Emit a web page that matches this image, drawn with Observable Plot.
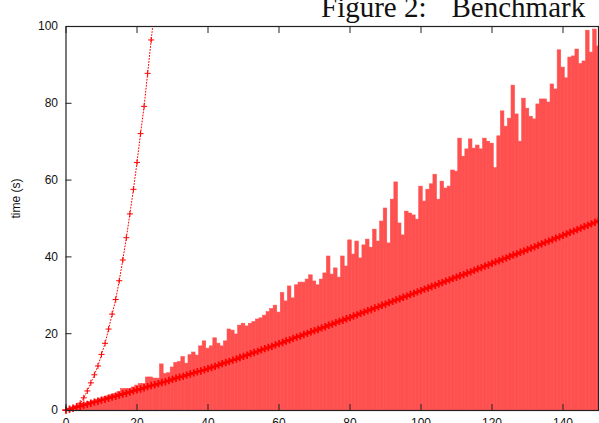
<!DOCTYPE html>
<html>
<head>
<meta charset="utf-8">
<script src="https://cdn.jsdelivr.net/npm/d3@7"></script>
<script src="https://cdn.jsdelivr.net/npm/@observablehq/plot@0.6"></script>
<style>
  html, body { margin: 0; padding: 0; background: #fff; overflow: hidden; }
  #wrap { position: relative; width: 599px; height: 423px; overflow: hidden; }
  #title {
    position: absolute; left: 321px; top: -7px; white-space: pre;
    font-family: "Liberation Serif", "Times New Roman", serif; font-size: 29px;
    line-height: 1; color: #111;
  }
  #title .rest { margin-left: 25px; }
  #chart { position: absolute; left: 0; top: 0; }
</style>
</head>
<body>
<div id="wrap">
  <div id="chart"></div>
  <div id="title">Figure 2:<span class="rest">Benchmark</span></div>
</div>
<script>
// Measured run time (s) per input size 0..150, one bar per size
const barTimes = [
  0.3, 0.5, 0.8, 1.1, 1.4, 1.7, 1.9, 2.2, 2.5, 2.8,
  3.1, 3.4, 3.7, 4.0, 4.3, 4.8, 5.6, 5.6, 5.6, 6.0,
  6.5, 6.9, 6.9, 8.6, 8.6, 8.3, 8.3, 12.0, 9.5, 9.7,
  11.2, 12.4, 12.6, 13.9, 12.2, 14.4, 15.1, 14.3, 16.7, 18.0,
  16.1, 16.7, 18.8, 17.4, 16.7, 18.0, 21.1, 20.8, 19.8, 22.1,
  22.6, 21.9, 22.6, 23.0, 23.7, 24.0, 24.7, 25.6, 26.4, 27.3,
  25.5, 30.6, 28.4, 32.3, 29.2, 32.6, 33.3, 33.3, 34.1, 35.2,
  33.6, 32.6, 34.1, 35.7, 40.1, 35.4, 37.0, 34.6, 40.1, 37.5,
  44.3, 40.6, 44.0, 39.6, 43.0, 44.5, 42.4, 47.1, 44.0, 49.2,
  52.6, 43.5, 54.9, 59.4, 48.7, 45.6, 51.8, 51.3, 50.8, 49.7,
  58.3, 54.4, 57.5, 58.9, 61.4, 54.9, 59.6, 57.8, 58.3, 62.5,
  62.2, 70.8, 66.1, 68.0, 70.6, 68.2, 69.0, 68.0, 70.8, 70.0,
  69.5, 63.1, 71.4, 77.9, 73.9, 76.0, 84.6, 77.1, 70.0, 81.2,
  78.6, 76.5, 75.8, 79.7, 81.0, 81.0, 80.2, 84.9, 83.6, 93.8,
  89.3, 86.5, 91.9, 92.2, 94.0, 90.2, 90.9, 98.9, 93.2, 99.2,
  94.8
];

// Fast variant: time (s) per input size 0..150
const fastTimes = [
  0.1, 0.35, 0.6, 0.9, 1.1, 1.4, 1.6, 1.9, 2.2, 2.4,
  2.7, 2.9, 3.2, 3.5, 3.7, 4.0, 4.3, 4.5, 4.8, 5.1,
  5.4, 5.6, 5.9, 6.2, 6.5, 6.7, 7.0, 7.3, 7.5, 7.8,
  8.1, 8.4, 8.7, 8.9, 9.2, 9.5, 9.8, 10.1, 10.3, 10.6,
  10.9, 11.2, 11.5, 11.8, 12.2, 12.5, 12.8, 13.1, 13.4, 13.8,
  14.1, 14.4, 14.8, 15.1, 15.4, 15.8, 16.1, 16.4, 16.7, 17.1,
  17.4, 17.7, 18.1, 18.4, 18.8, 19.1, 19.4, 19.8, 20.1, 20.5,
  20.8, 21.1, 21.5, 21.8, 22.2, 22.5, 22.9, 23.2, 23.5, 23.9,
  24.2, 24.6, 24.9, 25.3, 25.6, 26.0, 26.3, 26.7, 27.0, 27.4,
  27.7, 28.1, 28.4, 28.8, 29.1, 29.5, 29.8, 30.2, 30.5, 30.9,
  31.2, 31.6, 31.9, 32.3, 32.6, 33.0, 33.3, 33.7, 34.0, 34.4,
  34.7, 35.1, 35.4, 35.8, 36.1, 36.5, 36.9, 37.2, 37.6, 37.9,
  38.3, 38.7, 39.0, 39.4, 39.7, 40.1, 40.5, 40.8, 41.2, 41.5,
  41.9, 42.3, 42.6, 43.0, 43.4, 43.8, 44.1, 44.5, 44.9, 45.2,
  45.6, 46.0, 46.4, 46.7, 47.1, 47.5, 47.9, 48.2, 48.6, 49.0,
  49.4
];

// Naive variant: time (s) per input size 0..25 (leaves the plot above 100 s)
const naiveTimes = [
  0, 0.15, 0.5, 1.1, 1.9, 3.3, 5.1, 7.2, 9.3, 11.6,
  14.6, 17.5, 21.2, 25.1, 28.9, 33.8, 39.2, 45.0, 51.2, 57.6,
  64.6, 72.1, 79.2, 87.8, 96.5, 105.0
];

const xTicks = [0, 20, 40, 60, 80, 100, 120, 140];
const yTicks = [0, 20, 40, 60, 80, 100];
const yLabel = "time (s)";

const bars = barTimes.map((t, n) => ({n, t}));
const fast = fastTimes.map((t, n) => ({n, t}));
const naive = naiveTimes.map((t, n) => ({n, t}));

const red = "#ff0000";
const barFill = "#ff5050";
const axisInk = "#222";

const chart = Plot.plot({
  width: 599,
  height: 440,
  marginLeft: 65.5,
  marginRight: 1,
  marginTop: 26,
  marginBottom: 30,
  style: {fontFamily: "'Liberation Sans', Arial, sans-serif", fontSize: "12px", color: "#111", background: "#fff"},
  x: {domain: [0, 150], axis: null},
  y: {domain: [0, 100], axis: null},
  marks: [
    Plot.rectY(bars, {x1: d => d.n - 0.5, x2: d => d.n + 0.5, y1: 0, y2: "t", fill: barFill, stroke: barFill, strokeWidth: 0.6, clip: true}),
    Plot.line(naive, {x: "n", y: "t", stroke: red, strokeWidth: 1, strokeDasharray: "1,2", clip: true}),
    Plot.dot(naive.filter(d => d.t <= 100), {x: "n", y: "t", symbol: "plus", r: 2.1, stroke: red, strokeWidth: 1}),
    Plot.line(fast, {x: "n", y: "t", stroke: red, strokeWidth: 2, clip: true}),
    Plot.dot(fast, {x: "n", y: "t", symbol: "plus", r: 2.5, stroke: red, strokeWidth: 1.8}),
    Plot.frame({stroke: axisInk, strokeWidth: 1.2}),
    // inward tick marks
    Plot.axisX({anchor: "bottom", ticks: xTicks, tickSize: 6, dy: -6, text: null, label: null, stroke: axisInk}),
    Plot.axisX({anchor: "top", ticks: xTicks, tickSize: 6, dy: 6, text: null, label: null, stroke: axisInk}),
    Plot.axisY({anchor: "left", ticks: yTicks, tickSize: 6, dx: 6, text: null, label: null, stroke: axisInk}),
    // tick labels
    Plot.axisX({anchor: "bottom", ticks: xTicks, tickSize: 0, tickPadding: 8, label: null, fill: "#111"}),
    Plot.axisY({anchor: "left", ticks: yTicks, tickSize: 0, tickPadding: 8, label: null, fill: "#111"}),
    Plot.text([yLabel], {frameAnchor: "left", rotate: -90, dx: -50, fill: "#111", fontSize: 12})
  ]
});
document.getElementById("chart").appendChild(chart);
</script>
</body>
</html>
